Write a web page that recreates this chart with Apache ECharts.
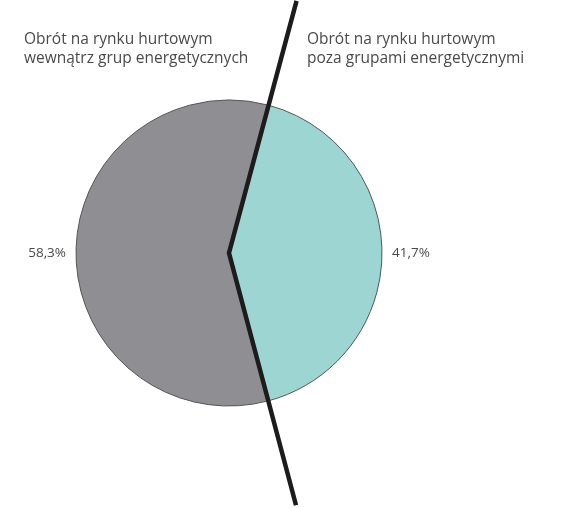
<!DOCTYPE html>
<html>
<head>
<meta charset="utf-8">
<script src="https://cdn.jsdelivr.net/npm/echarts@6/dist/echarts.min.js"></script>
<style>
html,body{margin:0;padding:0;background:#fff;}
#c{width:580px;height:508px;}
</style>
</head>
<body>
<div id="c"></div>
<script>
// Data
const categories = ['Obrót na rynku hurtowym\npoza grupami energetycznymi', 'Obrót na rynku hurtowym\nwewnątrz grup energetycznych'];
const shares = [41.7, 58.3];
const valueLabels = ['41,7%', '58,3%'];
const sliceColors = ['#9dd5d3', '#8f8e93'];

const chart = echarts.init(document.getElementById('c'));
const cx = 229, cy = 253, R = 153;
const startAngle = 75;
const total = shares.reduce((a, b) => a + b, 0);
// boundary angles of the first (teal) slice, in degrees counter-clockwise from east
const aTop = startAngle;
const aBottom = startAngle - 360 * shares[0] / total;
const L = 261;
const pt = a => [cx + L * Math.cos(a * Math.PI / 180), cy - L * Math.sin(a * Math.PI / 180)];

const font = '"Open Sans", "DejaVu Sans", sans-serif';

chart.setOption({
  animation: false,
  backgroundColor: '#ffffff',
  title: [
    {
      text: categories[1],
      left: 19, top: 25,
      textStyle: { fontFamily: font, fontSize: 15.5, fontWeight: 'normal', color: '#4a4a4a', lineHeight: 19 }
    },
    {
      text: categories[0],
      left: 302, top: 25,
      textStyle: { fontFamily: font, fontSize: 15.5, fontWeight: 'normal', color: '#4a4a4a', lineHeight: 19 }
    }
  ],
  series: [{
    type: 'pie',
    center: [cx, cy],
    radius: R,
    startAngle: startAngle,
    clockwise: true,
    silent: true,
    data: shares.map((v, i) => ({
      value: v,
      name: categories[i],
      itemStyle: { color: sliceColors[i] },
      label: { formatter: valueLabels[i] }
    })),
    itemStyle: { borderColor: '#555555', borderWidth: 1 },
    label: {
      show: true,
      position: 'outside',
      fontFamily: font,
      fontSize: 13.5,
      color: '#4a4a4a'
    },
    labelLine: { show: false, length: 5, length2: 0 }
  }],
  graphic: [{
    type: 'polyline',
    z: 100,
    shape: { points: [pt(aTop), [cx, cy], pt(aBottom)] },
    style: { stroke: '#1c1c1c', lineWidth: 4.5, fill: null, lineJoin: 'miter' }
  }]
});
</script>
</body>
</html>
